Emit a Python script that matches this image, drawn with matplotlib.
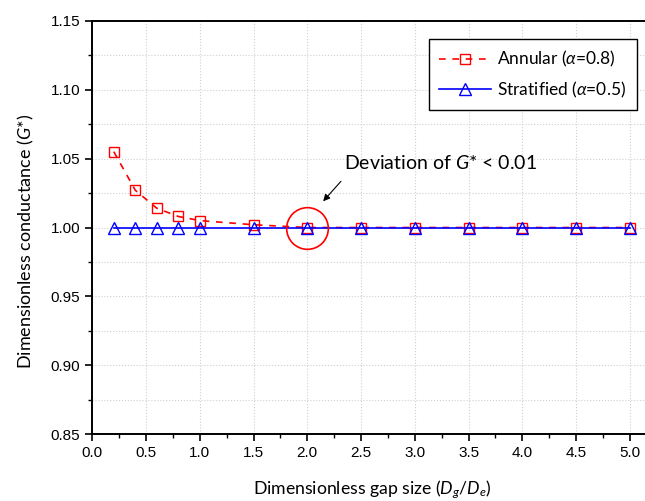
import numpy as np
import matplotlib
matplotlib.use('Agg')
import matplotlib.pyplot as plt
from matplotlib.ticker import MultipleLocator

plt.rcParams['mathtext.fontset'] = 'custom'
plt.rcParams['mathtext.rm'] = 'Lato'
plt.rcParams['mathtext.it'] = 'Lato:italic'

# data
gap = [0.2, 0.4, 0.6, 0.8, 1.0, 1.5, 2.0, 2.5, 3.0, 3.5, 4.0, 4.5, 5.0]
annular = [1.055, 1.027, 1.014, 1.008, 1.005, 1.002, 1.000, 1.000, 1.000, 1.000, 1.000, 1.000, 1.000]
stratified = [1.000, 1.000, 1.000, 1.000, 1.000, 1.000, 1.000, 1.000, 1.000, 1.000, 1.000, 1.000, 1.000]
xticks = [0.0, 0.5, 1.0, 1.5, 2.0, 2.5, 3.0, 3.5, 4.0, 4.5, 5.0]
yticks = [0.85, 0.90, 0.95, 1.00, 1.05, 1.10, 1.15]
circle_pt = (2.0, 1.0)

fig = plt.figure(figsize=(6.45, 5.01), dpi=100)
ax = fig.add_axes([0.1431, 0.1331, 0.8667, 0.8256])

ax.plot(gap, annular, color='red', ls=(0, (4, 4)), lw=1.2, marker='s', ms=7,
        mfc='none', mec='red', mew=1.0, label=r'Annular ($\alpha$=0.8)')
ax.plot(gap, stratified, color='blue', ls='-', lw=1.2, marker='^', ms=8,
        mfc='none', mec='blue', mew=1.0, label=r'Stratified ($\alpha$=0.5)')

# circle + arrow
ax.plot(*circle_pt, marker='o', ms=30, mfc='none', mec='red', mew=1.2)
ax.annotate('', xy=(2.13, 1.0175), xytext=(2.33, 1.035),
            arrowprops=dict(arrowstyle='-|>', color='k', lw=0.8, mutation_scale=10))
ax.text(2.34, 1.047, r'Deviation of $G$* < 0.01', fontsize=14, family='Lato',
        ha='left', va='center')

ax.set_xlim(0, 5.2)
ax.set_ylim(0.85, 1.15)
ax.set_xticks(xticks)
ax.set_yticks(yticks)
ax.xaxis.set_minor_locator(MultipleLocator(0.25))
ax.yaxis.set_minor_locator(MultipleLocator(0.025))
ax.set_xticklabels(['%.1f' % v for v in xticks], family='Liberation Sans', fontsize=11)
ax.set_yticklabels(['%.2f' % v for v in yticks], family='Liberation Sans', fontsize=11)

ax.tick_params(which='major', direction='out', length=5, width=1.2, bottom=True, left=True, top=False, right=False)
ax.tick_params(which='minor', direction='out', length=3, width=1.0, bottom=True, left=True, top=False, right=False)
for s in ax.spines.values():
    s.set_linewidth(1.4)

ax.grid(which='major', axis='both', color='#cfcfcf', ls=':', lw=0.8)
ax.grid(which='minor', axis='y', color='#cfcfcf', ls=':', lw=0.8)
ax.set_axisbelow(True)

ax.set_xlabel(r'Dimensionless gap size ($D_g$/$D_e$)', family='Lato', fontsize=12.7, labelpad=13)
ax.set_ylabel(r'Dimensionless conductance ($G$*)', family='Lato', fontsize=13, labelpad=11, y=0.467)

leg = ax.legend(loc='upper right', bbox_to_anchor=(0.974, 0.956), borderaxespad=0,
                fancybox=False, edgecolor='black', framealpha=1,
                prop={'family': 'Lato', 'size': 12.5}, handlelength=3.0,
                handletextpad=0.35, labelspacing=0.6, borderpad=0.6)
leg.get_frame().set_linewidth(1.0)

fig.savefig('out.png', dpi=100)
